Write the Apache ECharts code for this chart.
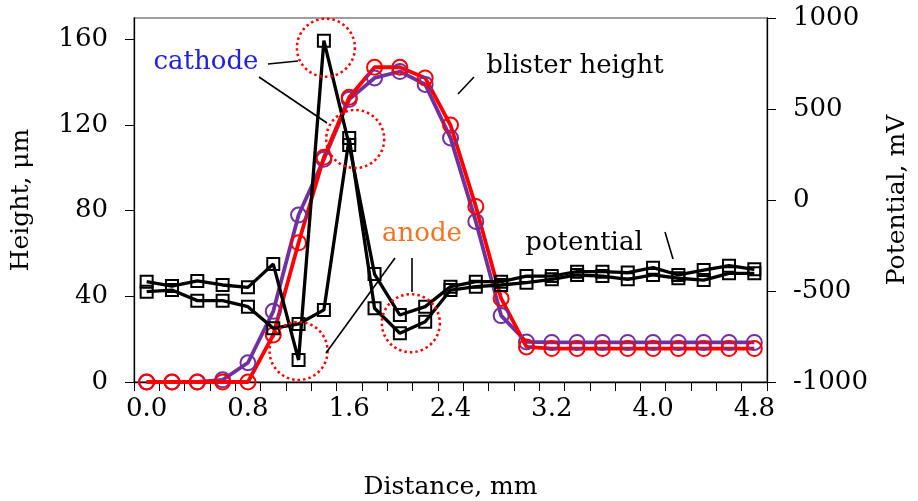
<!DOCTYPE html>
<html>
<head>
<meta charset="utf-8">
<script src="https://cdn.jsdelivr.net/npm/echarts@6/dist/echarts.min.js"></script>
<style>
  html, body { margin: 0; padding: 0; background: #fff; }
  #chart { width: 918px; height: 501px; }
</style>
</head>
<body>
<div id="chart"></div>
<script>
// Distance along the scan line, mm (one category every 0.2 mm)
const distance = ['0.0','0.2','0.4','0.6','0.8','1.0','1.2','1.4','1.6','1.8','2.0','2.2','2.4',
                  '2.6','2.8','3.0','3.2','3.4','3.6','3.8','4.0','4.2','4.4','4.6','4.8'];

// Blister height profiles, µm (left axis)
const heightA = [0, 0, 0, 1, 9, 33, 78, 104, 132, 142, 145, 139, 114, 75, 31, 18.7,
                 18.5, 18.5, 18.5, 18.5, 18.5, 18.5, 18.5, 18.5, 18.5];
const heightB = [0, 0, 0, 0, 0, 22, 65, 105, 133, 147, 147, 142, 120, 82, 39, 16.4,
                 15.6, 15.6, 15.6, 15.6, 15.6, 15.6, 15.6, 15.6, 15.6];

// Surface potential scans, mV (right axis)
const potentialA = [-449, -473, -445, -467, -480, -352, -879, 875, 302, -407, -632, -586, -476,
                    -449, -449, -418, -418, -394, -394, -399, -372, -412, -385, -361, -381];
const potentialB = [-504, -495, -553, -553, -586, -705, -681, -604, 341, -595, -732, -669, -495,
                    -476, -467, -454, -436, -412, -418, -436, -412, -430, -440, -403, -403];

// Axis ticks
const heightTicks = [0, 40, 80, 120, 160];
const potentialTicks = [-1000, -500, 0, 500, 1000];

const FONT = 'DejaVu Serif';
const chart = echarts.init(document.getElementById('chart'), null, { renderer: 'canvas' });

function heightSeries(data, color) {
  return {
    type: 'line', yAxisIndex: 0, data: data,
    symbol: 'circle', symbolSize: 15,
    lineStyle: { color: color, width: 3.8 },
    itemStyle: { color: 'rgba(0,0,0,0)', borderColor: color, borderWidth: 2 },
    emphasis: { disabled: true }, silent: true, z: 2
  };
}
function potentialSeries(data) {
  return {
    type: 'line', yAxisIndex: 1, data: data,
    symbol: 'rect', symbolSize: 12,
    lineStyle: { color: '#000', width: 3.3 },
    itemStyle: { color: 'rgba(0,0,0,0)', borderColor: '#000', borderWidth: 2 },
    emphasis: { disabled: true }, silent: true, z: 3
  };
}

const tickText = { fontFamily: FONT, fontSize: 26, color: '#000' };
const nameText = { fontFamily: FONT, fontSize: 25, color: '#000' };
const plain = v => String(v);

chart.setOption({
  animation: false,
  backgroundColor: '#fff',
  grid: { left: 134, right: 151, top: 18, bottom: 119, show: true,
          outerBoundsMode: 'none', containLabel: false,
          borderColor: '#808080', borderWidth: 1.3, backgroundColor: 'transparent' },
  xAxis: {
    type: 'category', data: distance, boundaryGap: true,
    name: 'Distance, mm', nameLocation: 'middle', nameGap: 93,
    nameTextStyle: nameText,
    axisLine: { lineStyle: { color: '#000', width: 1.3 } },
    axisTick: { show: true, interval: 0, length: 9, lineStyle: { color: '#000', width: 1 } },
    axisLabel: Object.assign({ interval: 3, margin: 14 }, tickText),
    splitLine: { show: false }
  },
  yAxis: [
    {
      type: 'value', position: 'left', min: 0, max: 170, interval: 40,
      name: 'Height, μm', nameLocation: 'middle', nameGap: 100, nameRotate: 90,
      nameTextStyle: nameText,
      axisLine: { show: true, lineStyle: { color: '#000', width: 1.3 } },
      axisTick: { show: true, length: 9, customValues: heightTicks, lineStyle: { color: '#000' } },
      axisLabel: Object.assign({ margin: 26, customValues: heightTicks, formatter: plain }, tickText),
      splitLine: { show: false }
    },
    {
      type: 'value', position: 'right', min: -1000, max: 1000, interval: 500,
      name: 'Potential, mV', nameLocation: 'middle', nameGap: 118, nameRotate: 90,
      nameTextStyle: nameText,
      axisLine: { show: true, lineStyle: { color: '#000', width: 1.3 } },
      axisTick: { show: true, length: 9, customValues: potentialTicks, lineStyle: { color: '#000' } },
      axisLabel: Object.assign({ margin: 26, customValues: potentialTicks, formatter: plain }, tickText),
      splitLine: { show: false }
    }
  ],
  series: [
    heightSeries(heightA, '#7030A0'),
    heightSeries(heightB, '#FF0000'),
    potentialSeries(potentialA),
    potentialSeries(potentialB)
  ]
});

// Annotations: dotted rings around the cathodic / anodic features, labels and leader lines
function px(cat, mv) { return chart.convertToPixel({ xAxisIndex: 0, yAxisIndex: 1 }, [cat, mv]); }
function ring(cat, mv, dx, dy) {
  const p = px(cat, mv);
  return {
    type: 'circle', silent: true, z: 10,
    shape: { cx: p[0] + dx, cy: p[1] + dy, r: 29 },
    style: { fill: 'none', stroke: '#FF0000', lineWidth: 2.5, lineDash: [2.5, 3] }
  };
}
function leader(x1, y1, x2, y2) {
  return { type: 'line', silent: true, z: 10, shape: { x1, y1, x2, y2 },
           style: { stroke: '#000', lineWidth: 1.6 } };
}
function label(text, x, y, color) {
  return { type: 'text', silent: true, z: 10, x: x, y: y,
           style: { text: text, fill: color, font: '26px "' + FONT + '"',
                    textAlign: 'center', textVerticalAlign: 'middle' } };
}

chart.setOption({
  graphic: [
    ring('1.4', potentialA[7], 2, 7),
    ring('1.6', potentialA[8], 6, -6),
    ring('1.2', potentialA[6], 0, -9),
    ring('2.0', potentialB[10], 11, -10),
    label('cathode', 206, 62, '#2020E0'),
    leader(268, 64, 298, 61),
    leader(259, 77, 327, 123),
    label('blister height', 575, 66, '#000'),
    leader(458, 94, 474, 77),
    label('anode', 422, 234, '#F37321'),
    leader(326, 353, 395, 258),
    leader(412, 292, 412, 258),
    label('potential', 584, 243, '#000'),
    leader(665, 232, 673, 259)
  ]
});
</script>
</body>
</html>
